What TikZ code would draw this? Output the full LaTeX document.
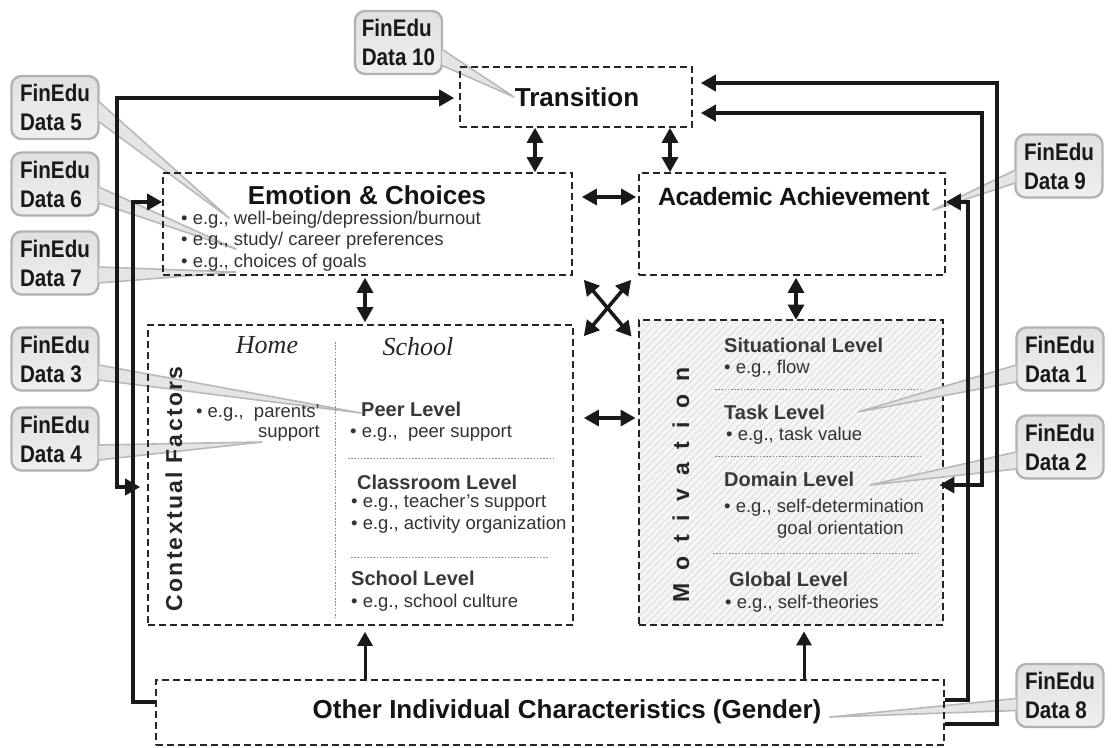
\documentclass[tikz,border=0pt]{standalone}
\usepackage{fontspec}
\setmainfont{Liberation Sans}
\newfontfamily\tagfont{Liberation Sans}[FakeStretch=0.86]
\newfontfamily\placefont{Liberation Serif}
\usetikzlibrary{arrows.meta,calc,patterns.meta}
\tikzset{
  frame/.style={draw=black!85, dash pattern=on 7pt off 4pt, line width=1.6pt, inner sep=0pt},
  heading/.style={font=\bfseries\fontsize{25}{30}\selectfont, text=black!92, inner sep=0pt},
  tier/.style={font=\bfseries\fontsize{20}{24}\selectfont, text=black!78, anchor=west, inner sep=0pt},
  eg/.style={font=\fontsize{18.5}{21}\selectfont, text=black!80, anchor=west, inner sep=0pt},
  setting/.style={font=\placefont\itshape\fontsize{26}{30}\selectfont, text=black!85, inner sep=0pt},
  upright/.style={rotate=90, inner sep=0pt, text=black!85},
  divider/.style={draw=black!45, line width=0.8pt, dash pattern=on 1.6pt off 1.6pt},
  callout/.style={draw=gray!60, top color=gray!24, bottom color=gray!12, line width=2.4pt, rounded corners=10pt,
    minimum width=87pt, minimum height=63pt, align=left, inner sep=0pt,
    font=\tagfont\bfseries\fontsize{24}{29}\selectfont, text=black!90},
  wedge/.style={draw=gray!55, fill=gray!20, line width=1.6pt, line join=round},
  twoway/.style={line width=3.2pt, draw=black!90,
    {Triangle[length=15pt,width=16pt]}-{Triangle[length=15pt,width=16pt]}},
  oneway/.style={line width=3pt, draw=black!90, -{Triangle[length=14pt,width=15pt]}},
  loopline/.style={line width=3.6pt, draw=black!90, -{Triangle[length=15pt,width=16pt]}},
}
\begin{document}
\begin{tikzpicture}[x=1pt,y=-1pt]
  \fill[white] (0,0) rectangle (1113,747);
  \useasboundingbox (0,0) rectangle (1113,747);

  \node[frame, minimum width=304pt, minimum height=305pt, preaction={fill=gray!7},
    pattern={Lines[angle=45,distance=5pt,line width=0.8pt]}, pattern color=gray!28] (mot) at (791,472.5) {};

  \coordinate (t10) at (514,97);
  \coordinate (t5) at (229,218);
  \coordinate (t6) at (236,249);
  \coordinate (t7) at (236,272);
  \coordinate (t3) at (361,413);
  \coordinate (t4) at (262,442);
  \coordinate (t9) at (933,210);
  \coordinate (t1) at (858,412);
  \coordinate (t2) at (870,485);
  \coordinate (t8) at (830,717);

  \node[callout] (d10) at (398.5,42.5) {FinEdu\\Data 10};
  \node[callout] (d5) at (55,107.5) {FinEdu\\Data 5};
  \node[callout] (d6) at (55,184) {FinEdu\\Data 6};
  \node[callout] (d7) at (55,263) {FinEdu\\Data 7};
  \node[callout] (d3) at (55,359) {FinEdu\\Data 3};
  \node[callout] (d4) at (55,439) {FinEdu\\Data 4};
  \node[callout] (d9) at (1059,166) {FinEdu\\Data 9};
  \node[callout] (d1) at (1060,359) {FinEdu\\Data 1};
  \node[callout] (d2) at (1060,447) {FinEdu\\Data 2};
  \node[callout] (d8) at (1060,695.5) {FinEdu\\Data 8};

  \filldraw[wedge] ($(d10.east)+(-1,7)$) -- (t10) -- ($(d10.east)+(-1,23)$);
  \filldraw[wedge] ($(d5.east)+(-1,-6)$) -- (t5) -- ($(d5.east)+(-1,14)$);
  \filldraw[wedge] ($(d6.east)+(-1,3)$) -- (t6) -- ($(d6.east)+(-1,19)$);
  \filldraw[wedge] ($(d7.east)+(-1,4)$) -- (t7) -- ($(d7.east)+(-1,20)$);
  \filldraw[wedge] ($(d3.east)+(-1,6)$) -- (t3) -- ($(d3.east)+(-1,21)$);
  \filldraw[wedge] ($(d4.east)+(-1,6)$) -- (t4) -- ($(d4.east)+(-1,21)$);
  \filldraw[wedge] ($(d9.west)+(1,4)$) -- (t9) -- ($(d9.west)+(1,17)$);
  \filldraw[wedge] ($(d1.west)+(1,6)$) -- (t1) -- ($(d1.west)+(1,23)$);
  \filldraw[wedge] ($(d2.west)+(1,5)$) -- (t2) -- ($(d2.west)+(1,22)$);
  \filldraw[wedge] ($(d8.west)+(1,3)$) -- (t8) -- ($(d8.west)+(1,15)$);

  \node[frame, minimum width=232pt, minimum height=60pt] (trans) at (576,97) {};
  \node[frame, minimum width=409pt, minimum height=102pt] (emo) at (367.5,224) {};
  \node[frame, minimum width=306pt, minimum height=102pt] (acad) at (792,224) {};
  \node[frame, minimum width=425pt, minimum height=300pt] (ctx) at (360.5,475) {};
  \node[frame, minimum width=788pt, minimum height=65pt] (other) at (550,712.5) {};

  \node[heading, font=\bfseries\fontsize{26}{30}\selectfont] (transT) at (577,97) {Transition};
  \node[heading, font=\bfseries\fontsize{26}{30}\selectfont] (emoT) at (367,195) {Emotion \& Choices};
  \node[heading, font=\bfseries\fontsize{25}{30}\selectfont\addfontfeatures{LetterSpace=-2}] (acadT) at (794,197) {Academic Achievement};
  \node[heading, font=\bfseries\fontsize{26}{30}\selectfont] (otherT) at (567,712) {Other Individual Characteristics (Gender)};

  \node[eg] (emo1) at (181,220) {• e.g., well-being/depression/burnout};
  \node[eg] (emo2) at (181,241) {• e.g., study/ career preferences};
  \node[eg] (emo3) at (181,263) {• e.g., choices of goals};

  \node[setting] (home) at (267,345) {Home};
  \node[setting] (school) at (418,347) {School};
  \node[upright, font=\bfseries\fontsize{23}{26}\selectfont\addfontfeatures{LetterSpace=10}] (ctxT) at (174,489) {Contextual Factors};
  \node[eg, anchor=east, align=right, font=\fontsize{18.5}{20}\selectfont] (homeEg) at (320,423) {• e.g.,~~parents’\\support};
  \node[tier] (peer) at (361,409) {Peer Level};
  \node[eg] (peerEg) at (350,433) {• e.g.,~~peer support};
  \node[tier] (class) at (357,482) {Classroom Level};
  \node[eg] (classEg1) at (351,503) {• e.g., teacher’s support};
  \node[eg] (classEg2) at (351,525) {• e.g., activity organization};
  \node[tier] (schoolL) at (351,578) {School Level};
  \node[eg] (schoolEg) at (351,603) {• e.g., school culture};
  \draw[divider] (335,342) -- (335,618);
  \draw[divider] (348,458) -- (555,458);
  \draw[divider] (351,557) -- (548,557);

  \node[upright, font=\bfseries\fontsize{23}{26}\selectfont\addfontfeatures{LetterSpace=58}] (motT) at (681,485) {Motivation};
  \node[tier] (sit) at (724,345) {Situational Level};
  \node[eg] (sitEg) at (724,369) {• e.g., flow};
  \node[tier] (task) at (724,412) {Task Level};
  \node[eg] (taskEg) at (726,436) {• e.g., task value};
  \node[tier] (dom) at (724,479) {Domain Level};
  \node[eg] (domEg1) at (724,508) {• e.g., self-determination};
  \node[eg] (domEg2) at (777,530) {goal orientation};
  \node[tier] (glob) at (729,579) {Global Level};
  \node[eg] (globEg) at (725,604) {• e.g., self-theories};
  \draw[divider] (715,389) -- (922,389);
  \draw[divider] (715,456) -- (922,456);
  \draw[divider] (713,553) -- (921,553);

  \begin{scope}[twoway]
    \draw (trans.south -| 535,0) to (emo.north -| 535,0);
    \draw (trans.south -| 670,0) to (acad.north -| 670,0);
    \draw[shorten <=9pt, shorten >=2pt] (emo.east |- 0,197) to (acad.west |- 0,197);
    \draw[shorten <=2pt, shorten >=2pt] (emo.south -| 365,0) to (ctx.north -| 365,0);
    \draw[shorten <=2pt] (acad.south -| 796,0) to (mot.north -| 796,0);
    \draw[shorten <=10pt, shorten >=3pt] (ctx.east |- 0,418) to (mot.west |- 0,418);
    \draw[line width=3.6pt] ($(emo.south east)+(11,4)$) to ($(mot.north west)+(-7,17)$);
    \draw[line width=3.6pt] ($(acad.south west)+(-7,4)$) to ($(ctx.north east)+(10,12)$);
  \end{scope}
  \begin{scope}[oneway]
    \draw[shorten >=6pt] (other.north -| 365,0) to (ctx.south -| 365,0);
    \draw[shorten >=6pt] (other.north -| 804,0) to (mot.south -| 804,0);
  \end{scope}

  \draw[loopline, {Triangle[length=15pt,width=16pt]}-{Triangle[length=15pt,width=16pt]}, shorten <=7pt, shorten >=5pt]
    (ctx.west |- 0,487) -- (117,487) |- (trans.west |- 0,98);
  \draw[loopline] (other.west |- 0,702) -| (133,202) -- (emo.west |- 0,202);
  \draw[loopline, shorten >=8pt] (other.east |- 0,724) -| (997,83) -- (trans.east |- 0,83);
  \draw[loopline, {Triangle[length=15pt,width=16pt]}-{Triangle[length=15pt,width=16pt]}, shorten <=-4pt, shorten >=8pt]
    (mot.east |- 0,485) -| (982,113) -- (trans.east |- 0,113);
  \draw[loopline] (other.east |- 0,700) -| (968,202) -- (acad.east |- 0,202);
\end{tikzpicture}
\end{document}
